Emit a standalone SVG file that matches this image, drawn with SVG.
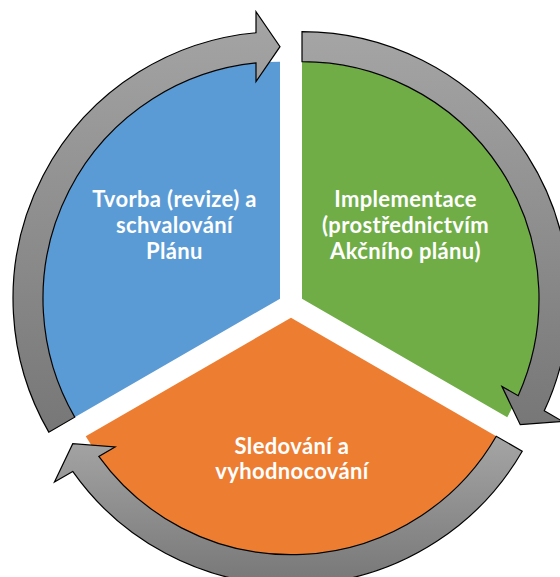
<svg xmlns="http://www.w3.org/2000/svg" width="560" height="577" viewBox="0 0 560 577">
  <defs>
    <linearGradient id="arrowGrad" x1="0" y1="0" x2="0" y2="1">
      <stop offset="0" stop-color="#a5a5a5"/>
      <stop offset="1" stop-color="#777777"/>
    </linearGradient>
    <style>
      .arrow { fill: url(#arrowGrad); stroke: #000000; stroke-width: 1.2; stroke-linejoin: miter; }
      .lbl { font-family: Lato, "Liberation Sans", sans-serif; font-weight: bold; font-size: 22px; letter-spacing: 0.35px; fill: #ffffff; text-anchor: middle; }
    </style>
  </defs>
  <rect width="560" height="577" fill="#ffffff"/>
  <g id="node-tvorba">
    <path d="M 280 298.65 L 74.75 417.15 A 237 237 0 0 1 280 61.65 Z" fill="#5b9bd5"/>
    <text class="lbl" x="174.5" y="207">Tvorba (revize) a</text>
    <text class="lbl" x="174.5" y="233">schvalování</text>
    <text class="lbl" x="174.5" y="259">Plánu</text>
  </g>
  <g id="node-implementace">
    <path d="M 302 298.65 L 302 61.65 A 237 237 0 0 1 507.25 417.15 Z" fill="#70ad47"/>
    <text class="lbl" x="405.5" y="207">Implementace</text>
    <text class="lbl" x="405.5" y="233">(prostřednictvím</text>
    <text class="lbl" x="405.5" y="259">Akčního plánu)</text>
  </g>
  <g id="node-sledovani">
    <path d="M 291 317.7 L 496.25 436.2 A 237 237 0 0 1 85.75 436.2 Z" fill="#ed7d31"/>
    <text class="lbl" x="292" y="453.5">Sledování a</text>
    <text class="lbl" x="292" y="478.5">vyhodnocování</text>
  </g>
  <g id="connectors">
    <path class="arrow" d="M 48.8 432.15 A 267 267 0 0 1 256 32.73 L 256 11.65 L 280 46.65 L 256 81.65 L 256 62.87 A 237 237 0 0 0 74.75 417.15 Z"/>
    <path class="arrow" d="M 302 31.65 A 267 267 0 0 1 544.29 410.83 L 562.55 421.37 L 520.24 424.65 L 501.93 386.37 L 518.19 395.76 A 237 237 0 0 0 302 61.65 Z"/>
    <path class="arrow" d="M 522.23 451.2 A 267 267 0 0 1 72.71 471.44 L 54.45 481.98 L 72.76 443.7 L 115.07 446.98 L 98.81 456.37 A 237 237 0 0 0 496.25 436.2 Z"/>
  </g>
</svg>
